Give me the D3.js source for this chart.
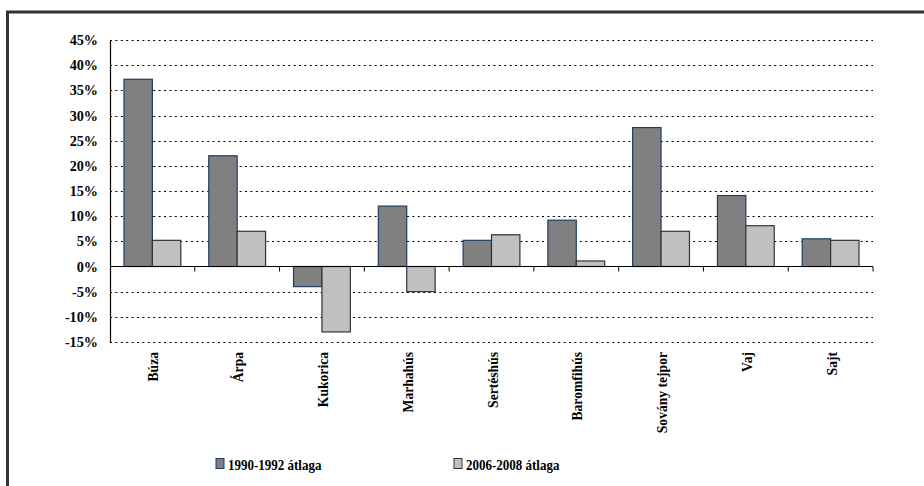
<!DOCTYPE html>
<html>
<head>
<meta charset="utf-8">
<script src="https://cdn.jsdelivr.net/npm/d3@7"></script>
<style>
body{margin:0;background:#fff;overflow:hidden;}
svg{display:block;}
text{font-family:"Liberation Serif","Times New Roman",serif;font-weight:bold;fill:#000;}
</style>
</head>
<body>
<svg></svg>
<script>
let categories=['Búza','Árpa','Kukorica','Marhahús','Sertéshús','Baromfihús','Sovány tejpor','Vaj','Sajt'];
let seriesNames=['1990-1992 átlaga','2006-2008 átlaga'];
let values1990=[37.2,22,-4,12,5.2,9.2,27.6,14.1,5.5];
let values2006=[5.2,7,-13,-5,6.3,1.1,7,8.1,5.2];
let yTicks=[-15,-10,-5,0,5,10,15,20,25,30,35,40,45];

let w=924;
let h=486;
let svg=d3.select('svg').attr('width',w).attr('height',h);

// outer frame (right and bottom run off the page)
svg.append('rect')
  .attr('x',7.5).attr('y',12)
  .attr('width',w+40).attr('height',h+40)
  .attr('fill','none').attr('stroke','#333').attr('stroke-width',3);

let left=110, right=873;
let yScale=d3.scaleLinear().domain([-15,45]).range([342,40]);
let xScale=d3.scaleBand().domain(categories).range([left,right]).paddingInner(0.33).paddingOuter(0.165);
let inner=d3.scaleBand().domain(seriesNames).range([0,xScale.bandwidth()]);

let fills=['#808080','#c0c0c0'];
let strokes=['#1f3d66','#333'];

// gridlines
svg.append('g').selectAll('line')
  .data(yTicks.filter(d=>d!==0))
  .enter().append('line')
  .attr('x1',left).attr('x2',right)
  .attr('y1',d=>Math.round(yScale(d))+0.5).attr('y2',d=>Math.round(yScale(d))+0.5)
  .attr('stroke','#000').attr('stroke-width',1.2).attr('stroke-dasharray','2,3.4');

// bars
let rows=categories.map((c,i)=>[{c:c,s:0,v:values1990[i]},{c:c,s:1,v:values2006[i]}]).flat();
svg.append('g').selectAll('rect')
  .data(rows)
  .enter().append('rect')
  .attr('x',d=>xScale(d.c)+inner(seriesNames[d.s]))
  .attr('width',inner.bandwidth())
  .attr('y',d=>yScale(Math.max(0,d.v)))
  .attr('height',d=>Math.abs(yScale(d.v)-yScale(0)))
  .attr('fill',d=>fills[d.s])
  .attr('stroke',d=>strokes[d.s]).attr('stroke-width',1.2);

// y axis
let yAxis=d3.axisLeft(yScale).tickValues(yTicks).tickSize(0).tickPadding(12).tickFormat(d=>d+'%');
let gy=svg.append('g').attr('transform','translate('+left+',0)').call(yAxis);
gy.select('.domain').attr('stroke','#000').attr('stroke-width',1.2);
gy.selectAll('text').style('font-size','14.2px').style('font-family','Liberation Serif');

// x axis at zero with ticks at category boundaries
let zeroY=yScale(0);
svg.append('line').attr('x1',left).attr('x2',right).attr('y1',zeroY).attr('y2',zeroY)
  .attr('stroke','#000').attr('stroke-width',1.2);
let catW=(right-left)/categories.length;
svg.append('g').selectAll('line')
  .data(d3.range(1,categories.length+1))
  .enter().append('line')
  .attr('x1',d=>left+d*catW).attr('x2',d=>left+d*catW)
  .attr('y1',zeroY).attr('y2',zeroY+5)
  .attr('stroke','#000').attr('stroke-width',1);

// category labels
svg.append('g').selectAll('text')
  .data(categories)
  .enter().append('text')
  .attr('transform',d=>'translate('+(xScale(d)+xScale.bandwidth()/2+6)+',352) rotate(-90)')
  .attr('text-anchor','end')
  .style('font-size','13.6px')
  .text(d=>d);

// legend
let legendX=[216,454];
seriesNames.forEach((s,i)=>{
  svg.append('rect').attr('x',legendX[i]).attr('y',458.5).attr('width',8).attr('height',10)
    .attr('fill',fills[i]).attr('stroke',strokes[i]).attr('stroke-width',1);
  svg.append('text').attr('transform','translate('+(legendX[i]+12)+',469.5) scale(1,1.2)')
    .style('font-size','13px').text(s);
});
</script>
</body>
</html>
